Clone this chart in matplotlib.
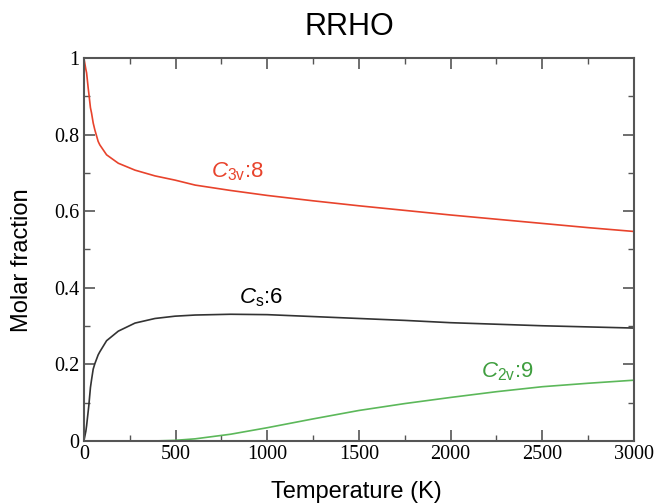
import matplotlib
matplotlib.use("Agg")
import matplotlib.pyplot as plt
from matplotlib.ticker import MultipleLocator

# temperatures (K) and molar fractions
temps = [0, 11, 15, 24, 27, 36, 42, 51, 60, 78, 87, 124, 188, 279, 388, 497,
         607, 800, 1000, 1250, 1500, 1750, 2000, 2250, 2500, 2750, 3000]
frac_c3v = [1.0, 0.97, 0.961, 0.92, 0.908, 0.87, 0.856, 0.83, 0.812, 0.782, 0.773,
            0.747, 0.725, 0.707, 0.692, 0.681, 0.668, 0.654, 0.641, 0.627, 0.614,
            0.602, 0.590, 0.579, 0.568, 0.557, 0.547]
frac_cs = [0.0, 0.026, 0.04, 0.079, 0.092, 0.14, 0.16, 0.188, 0.202, 0.225, 0.233,
           0.262, 0.287, 0.308, 0.320, 0.326, 0.329, 0.331, 0.330, 0.325, 0.320,
           0.315, 0.309, 0.305, 0.301, 0.298, 0.295]
frac_c2v = [0, 0, 0, 0, 0, 0, 0, 0, 0, 0, 0, 0, 0, 0, 0.0005, 0.002, 0.006,
            0.018, 0.035, 0.058, 0.080, 0.098, 0.114, 0.129, 0.142, 0.151, 0.159]

labels = [r"$C_{\mathrm{3v}}$:8", r"$C_{\mathrm{s}}$:6", r"$C_{\mathrm{2v}}$:9"]
label_pos = [(836, 0.702), (967, 0.373), (2311, 0.18)]

red = "#e8432c"
green = "#5cb85a"
dark = "#333333"

plt.rcParams["mathtext.fontset"] = "custom"
plt.rcParams["mathtext.rm"] = "Liberation Sans"
plt.rcParams["mathtext.it"] = "Liberation Sans:italic"

fig = plt.figure(figsize=(6.55, 5.03), dpi=100)
ax = fig.add_axes([0.128, 0.123, 0.84, 0.762])

ax.plot(temps, frac_c3v, color=red, lw=1.2)
ax.plot(temps, frac_cs, color=dark, lw=1.2)
ax.plot(temps, frac_c2v, color=green, lw=1.2)

for txt, (x, y), c in zip(labels, label_pos, [red, "black", "#3f9e3f"]):
    ax.text(x, y, txt, color=c, ha="center", va="center", fontsize=16,
            family="Liberation Sans")

ax.set_xlim(0, 3000)
ax.set_ylim(0, 1)
ax.xaxis.set_major_locator(MultipleLocator(500))
ax.xaxis.set_minor_locator(MultipleLocator(250))
ax.yaxis.set_major_locator(MultipleLocator(0.2))
ax.yaxis.set_minor_locator(MultipleLocator(0.1))
ax.yaxis.set_major_formatter(plt.FuncFormatter(lambda v, p: f"{v:g}"))
ax.tick_params(which="both", direction="in", top=True, right=True, color="#555555")
ax.tick_params(which="major", length=8, width=1.2, labelsize=14.5, pad=3)
ax.tick_params(which="minor", length=4, width=1.0)
for lab in ax.get_xticklabels() + ax.get_yticklabels():
    lab.set_family("Liberation Serif")
for s in ax.spines.values():
    s.set_color("#555555")
    s.set_linewidth(1.5)

fig.text(356 / 655, 1 - 492 / 503, "Temperature (K)", family="Liberation Sans",
         fontsize=17, ha="center", va="center")
fig.text(22 / 655, 1 - 260 / 503, "Molar fraction", family="Liberation Sans",
         fontsize=17, ha="center", va="center", rotation=90)
fig.text(349 / 655, 1 - 27 / 503, "RRHO", family="Liberation Sans", fontsize=22,
         ha="center", va="center")

fig.savefig("out.png", dpi=100)
